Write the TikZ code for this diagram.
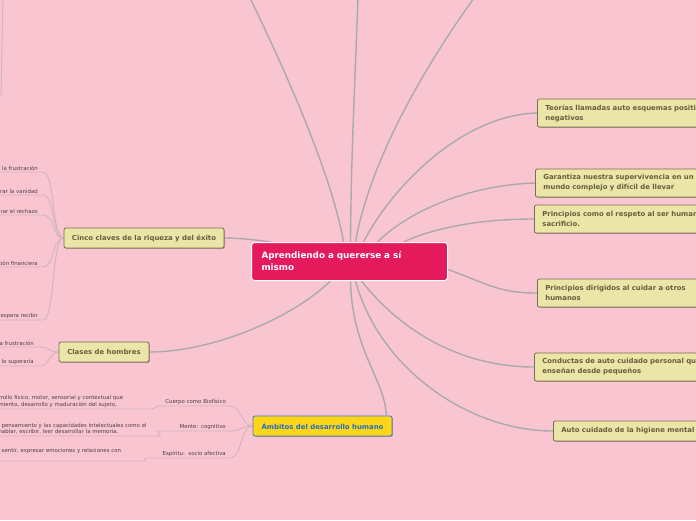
\documentclass[tikz,border=0pt]{standalone}
\usepackage{fontspec}
\setmainfont{DejaVu Sans}
\usepackage{tikz}
\usetikzlibrary{shadows,backgrounds}
\definecolor{bgpink}{RGB}{249,197,209}
\definecolor{rootfill}{RGB}{229,26,93}
\definecolor{topicfill}{RGB}{235,230,168}
\definecolor{topicline}{RGB}{120,110,80}
\definecolor{topictext}{RGB}{100,95,60}
\definecolor{goldfill}{RGB}{254,214,23}
\definecolor{goldline}{RGB}{58,125,206}
\definecolor{goldtext}{RGB}{30,110,205}
\definecolor{leaftext}{RGB}{75,65,65}
\definecolor{branchgrey}{RGB}{170,170,170}
\definecolor{twiggrey}{RGB}{208,180,190}
\tikzset{
  root/.style={draw=white, line width=1pt, fill=rootfill, rounded corners=3pt, text=white, align=left, font=\fontsize{8.8}{12}\selectfont\bfseries, minimum width=196pt, minimum height=38pt, text width=176pt, inner xsep=10pt},
  topic/.style={draw=topicline, line width=0.8pt, fill=topicfill, rounded corners=2pt, text=topictext, font=\fontsize{6.9}{10}\selectfont\bfseries, inner xsep=8pt, inner ysep=3pt, minimum height=20pt, drop shadow={shadow xshift=0.8pt, shadow yshift=-0.8pt, fill=black, opacity=0.3}},
  note/.style={topic, anchor=west, text width=185pt, align=left, minimum height=28pt},
  gold/.style={topic, draw=goldline, fill=goldfill, text=goldtext},
  leaf/.style={text=leaftext, font=\fontsize{5.4}{6.5}\selectfont, inner xsep=5pt, inner ysep=1.5pt, anchor=south east},
  sub/.style={leaf, text width=62pt, align=right, inner xsep=4pt},
  detail/.style={leaf, anchor=south west, align=left, inner xsep=1.5pt},
  branch/.style={draw=branchgrey, line width=1.4pt},
  twig/.style={draw=twiggrey, line width=0.9pt},
}
\begin{document}
\begin{tikzpicture}[x=1pt,y=-1pt]
  \useasboundingbox (0,0) rectangle (696,520);
  \coordinate (edge) at (-5,0);
  \coordinate (up1) at (3,-2);
  \coordinate (up2) at (1,97);
  \coordinate (top1) at (250,-2);
  \coordinate (top2) at (358,-2);
  \coordinate (top3) at (474,-2);
  % centre
  \node[root, anchor=north west] (root) at (251,242) {Aprendiendo a quererse a sí\\mismo};
  % right side
  \node[note] (teorias)   at (537,113) {Teorías llamadas auto esquemas positivos y\\negativos};
  \node[note] (garantiza) at (535,183) {Garantiza nuestra supervivencia en un\\mundo complejo y difícil de llevar};
  \node[note] (respeto)   at (534,219) {Principios como el respeto al ser humano\\sacrificio.};
  \node[note] (dirigidos) at (537,293) {Principios dirigidos al cuidar a otros\\humanos};
  \node[note] (conductas) at (534,367) {Conductas de auto cuidado personal que\\enseñan desde pequeños};
  \node[note, minimum height=20pt] (higiene) at (553,431) {Auto cuidado de la higiene mental};
  % left side
  \node[topic, minimum width=160pt] (cinco) at (144,238) {Cinco claves de la riqueza y del éxito};
  \node[topic, minimum width=90pt] (clases) at (104,352) {Clases de hombres};
  \node[gold, minimum width=139pt] (amb) at (322.5,426) {Ámbitos del desarrollo humano};
  % leaves of the five keys
  \node[leaf] (frustra) at (43,172) {la frustración};
  \node[leaf] (vanidad) at (43,195) {rar la vanidad};
  \node[leaf] (rechazo) at (43,215) {rar el rechazo};
  \node[leaf] (finan)   at (43,267) {ción financiera};
  \node[leaf] (recibir) at (43,320) {espera recibir};
  % leaves of the kinds of men
  \node[leaf, inner xsep=6pt] (frust2) at (40,347) {a frustración};
  \node[leaf, inner xsep=6pt] (supera) at (40,366) {lo superaría};
  % areas of human growth
  \node[sub] (cuerpo)   at (230,406) {Cuerpo como Biofísico};
  \node[sub] (mente)    at (230,431) {Mente: cognitivo};
  \node[sub, text width=74pt] (espiritu) at (230,458) {Espíritu:\ \ socio afectiva};
  \node[detail, text width=150pt] (fisico)    at (-3,409) {rrollo físico, motor, sensorial y contextual que\\miento, desarrollo y maduración del sujeto,};
  \node[detail, text width=158pt] (intelecto) at (-3,436) {\hspace{3pt}pensamiento y las capacidades intelectuales como el\\hablar, escribir, leer desarrollar la memoria.};
  \node[detail, text width=143pt] (emocion)   at (-3,461) {\hspace{3pt}sentir, expresar emociones y relaciones con\\\mbox{}};
  \begin{scope}[on background layer]
    \fill[bgpink] (0,0) rectangle (696,520);
    \draw[twig] (up1) -- (up2);
    % branches from the centre
    \draw[branch] ([xshift=-6pt]root.north) .. controls (333,180) and (290,80) .. (top1);
    \draw[branch] ([xshift=1pt]root.north) .. controls (351,160) and (355,80) .. (top2);
    \draw[branch] ([xshift=6pt]root.north) .. controls (368,170) and (415,80) .. (top3);
    \draw[branch] ([xshift=14pt]root.north) .. controls (390,190) and (460,115) .. (teorias.west);
    \draw[branch] ([xshift=28pt]root.north) .. controls (410,210) and (470,185) .. (garantiza.west);
    \draw[branch] ([xshift=54pt]root.north) .. controls (440,225) and (490,219) .. (respeto.west);
    \draw[branch] ([yshift=-8pt]root.east) .. controls (490,285) and (500,293) .. (dirigidos.west);
    \draw[branch] ([xshift=12pt]root.south) .. controls (400,330) and (460,367) .. (conductas.west);
    \draw[branch] ([xshift=6pt]root.south) .. controls (380,370) and (470,431) .. (higiene.west);
    \draw[branch] ([xshift=1pt]root.south) .. controls (352,350) and (385,380) .. ([xshift=-6pt]amb.north east);
    \draw[branch] ([xshift=-79pt]root.north) .. controls (250,239) and (235,238) .. (cinco.east);
    \draw[branch] ([xshift=-19pt]root.south) .. controls (290,320) and (210,352) .. (clases.east);
    % twigs
    \foreach \l in {frustra,vanidad,rechazo,finan,recibir}
      \draw[twig] (\l.south west -| edge) -- (\l.south east) .. controls +(12,0) and +(-12,0) .. (cinco.west);
    \foreach \l in {frust2,supera}
      \draw[twig] (\l.south west -| edge) -- (\l.south east) .. controls +(10,0) and +(-10,0) .. (clases.west);
    \foreach \l in {cuerpo,mente,espiritu}
      \draw[twig] (\l.south west) -- (\l.south east) .. controls +(12,0) and +(-12,0) .. (amb.west);
    \draw[twig] (fisico.south west -| edge) -- (fisico.south east) .. controls +(6,0) and +(-6,0) .. (cuerpo.south west);
    \draw[twig] (intelecto.south west -| edge) -- (intelecto.south east) .. controls +(6,0) and +(-6,0) .. (mente.south west);
    \draw[twig] (emocion.south west -| edge) -- (emocion.south east) .. controls +(6,0) and +(-6,0) .. (espiritu.south west);
  \end{scope}
\end{tikzpicture}
\end{document}
